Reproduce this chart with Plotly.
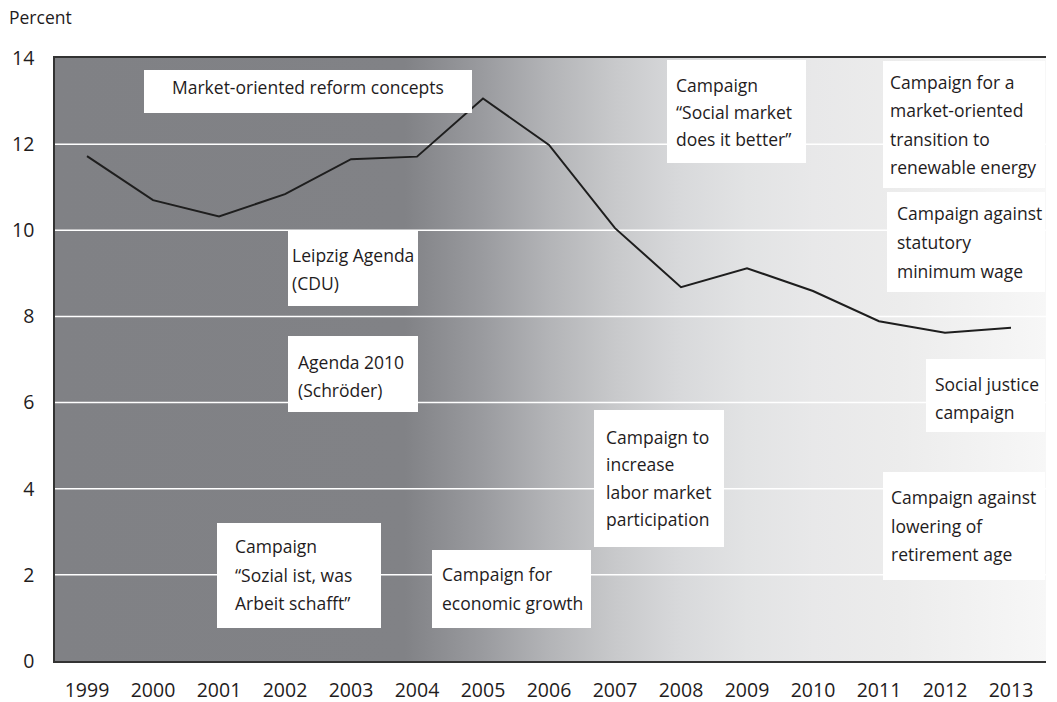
import plotly.graph_objects as go

# ---------------- data ----------------
years = list(range(1999, 2014))
values = [11.72, 10.70, 10.32, 10.84, 11.65, 11.71, 13.06, 11.98,
          10.05, 8.68, 9.12, 8.59, 7.89, 7.62, 7.74]
y_ticks = [0, 2, 4, 6, 8, 10, 12, 14]
grid_values = [2, 4, 6, 8, 10, 12]
y_title = "Percent"

box_texts = [
    ["Market-oriented reform concepts"],
    ["Leipzig Agenda", "(CDU)"],
    ["Agenda 2010", "(Schröder)"],
    ["Campaign", "“Sozial ist, was", "Arbeit schafft”"],
    ["Campaign for", "economic growth"],
    ["Campaign to", "increase", "labor market", "participation"],
    ["Campaign", "“Social market", "does it better”"],
    ["Campaign for a", "market-oriented", "transition to", "renewable energy"],
    ["Campaign against", "statutory", "minimum wage"],
    ["Social justice", "campaign"],
    ["Campaign against", "lowering of", "retirement age"],
]

# ---------------- layout geometry (pixels) ----------------
W, H = 1057, 702
L, R, T, B = 55, 1046, 58, 661
px_per_year = 66.0
first_px = 87.0
x_min = years[0] - (first_px - L) / px_per_year
x_max = years[0] + (R - first_px) / px_per_year


def pxx(p):
    return (p - L) / (R - L)


def pxy(p):
    return (B - p) / (B - T)


# box placement: (left, top, right, bottom, text_x, first_line_center, line_step)
box_pos = [
    (144, 70, 472, 113, 170, 87, 28),
    (288, 231, 418, 306, 290, 255, 27.5),
    (288, 336, 418, 412, 296, 362, 28),
    (217, 523, 381, 628, 233, 546, 28.5),
    (432, 550, 591, 628, 440, 574, 28.5),
    (594, 410, 724, 547, 604, 437, 27.3),
    (667, 60, 806, 163, 674, 85, 27),
    (883, 61, 1045, 188, 888, 82, 28.3),
    (887, 192, 1045, 292, 895, 213, 29),
    (926, 359, 1045, 432, 933, 384, 28.5),
    (883, 472, 1045, 580, 889, 497, 28.5),
]

FONT = "Open Sans, Noto Sans, DejaVu Sans, sans-serif"
TEXT_COLOR = "#1f1c1d"

fig = go.Figure()

# gradient background
grad_stops = [
    (L, "#808185"), (405, "#818286"), (483, "#9a9b9f"), (549, "#b3b4b7"),
    (615, "#c8c9cb"), (681, "#d8d9db"), (747, "#e2e3e4"), (813, "#e8e8e9"),
    (900, "#ececec"), (R, "#f7f7f7"),
]
colorscale = [[(p - L) / (R - L), c] for p, c in grad_stops]
fig.add_trace(go.Scatter(
    x=[x_min, x_max, x_max, x_min, x_min], y=[0, 0, 14, 14, 0],
    mode="lines", line=dict(width=0), fill="toself",
    fillgradient=dict(type="horizontal", colorscale=colorscale,
                      start=x_min, stop=x_max),
    hoverinfo="skip", showlegend=False,
))

# white gridlines
gx, gy = [], []
for g in grid_values:
    gx += [x_min, x_max, None]
    gy += [g, g, None]
fig.add_trace(go.Scatter(x=gx, y=gy, mode="lines",
                         line=dict(color="#ffffff", width=1.5),
                         hoverinfo="skip", showlegend=False))

# data line
fig.add_trace(go.Scatter(x=years, y=values, mode="lines",
                         line=dict(color="#1e1e1e", width=2),
                         showlegend=False))

shapes = []
annotations = []
for lines, (bl, bt, br, bb, tx, ty, step) in zip(box_texts, box_pos):
    shapes.append(dict(type="rect", xref="paper", yref="paper",
                       x0=pxx(bl), x1=pxx(br), y0=pxy(bb), y1=pxy(bt),
                       fillcolor="#ffffff", line=dict(width=0), layer="above"))
    for i, line in enumerate(lines):
        annotations.append(dict(
            xref="paper", yref="paper", x=pxx(tx), y=pxy(ty + i * step),
            xanchor="left", yanchor="middle", text=line, showarrow=False,
            font=dict(family=FONT, size=17.5, color=TEXT_COLOR)))

annotations.append(dict(xref="paper", yref="paper", x=pxx(7), y=pxy(17),
                        xanchor="left", yanchor="middle", text=y_title,
                        showarrow=False,
                        font=dict(family=FONT, size=17.5, color=TEXT_COLOR)))

fig.update_layout(
    width=W, height=H,
    margin=dict(l=L, r=W - R, t=T, b=H - B, pad=0, autoexpand=False),
    paper_bgcolor="#ffffff", plot_bgcolor="#ffffff",
    shapes=shapes, annotations=annotations,
    xaxis=dict(range=[x_min, x_max], tickmode="array", tickvals=years,
               ticktext=[str(y) for y in years], showgrid=False,
               zeroline=False, showline=True, mirror=True, automargin=False,
               linecolor="#333333", linewidth=1.5, ticks="",
               ticklabelstandoff=11,
               tickfont=dict(family=FONT, size=19.5, color=TEXT_COLOR)),
    yaxis=dict(range=[0, 14], tickmode="array", tickvals=y_ticks,
               showgrid=False, zeroline=False, showline=True, automargin=False,
               linecolor="#333333", linewidth=1.5, ticks="",
               ticklabelstandoff=15,
               tickfont=dict(family=FONT, size=19.5, color=TEXT_COLOR)),
)

fig.write_html("out.html",
               config={"displayModeBar": False},
               post_script="document.body.style.margin='0';"
                           "document.body.style.overflow='hidden';")
